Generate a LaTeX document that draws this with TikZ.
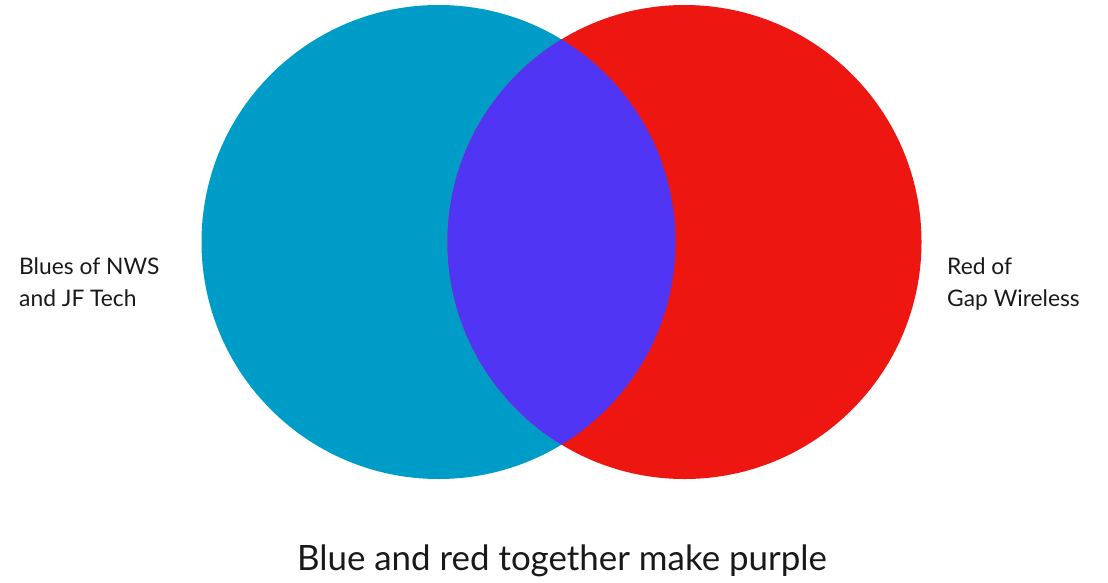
\documentclass[tikz,border=0pt]{standalone}
\usepackage{fontspec}
\setmainfont{Lato}
\definecolor{vblue}{HTML}{009CC8}
\definecolor{vred}{HTML}{EE1610}
\definecolor{vpurple}{HTML}{5035F5}
\begin{document}
\begin{tikzpicture}[x=1pt,y=-1pt,
  sidelabel/.style={font=\fontsize{22.8}{32}\selectfont, align=left, inner sep=0pt, text=black!90},
  caption/.style={font=\fontsize{34.9}{40}\selectfont, inner sep=0pt, text=black!90}]
\useasboundingbox (0,0) rectangle (1108,582);
\coordinate (cb) at (438.5,242);
\coordinate (cr) at (684.5,242);
\fill[vblue] (cb) circle[radius=237];
\fill[vred] (cr) circle[radius=237];
\begin{scope}
  \clip (cb) circle[radius=237];
  \fill[vpurple] (cr) circle[radius=237];
\end{scope}
\node[sidelabel, anchor=base west] (lb) at (19,306) {Blues of NWS\\and JF Tech};
\node[sidelabel, anchor=base west] (lr) at (947,306) {Red of\\Gap Wireless};
\node[caption, anchor=base] (cap) at (562,570) {Blue and red together make purple};
\end{tikzpicture}
\end{document}
